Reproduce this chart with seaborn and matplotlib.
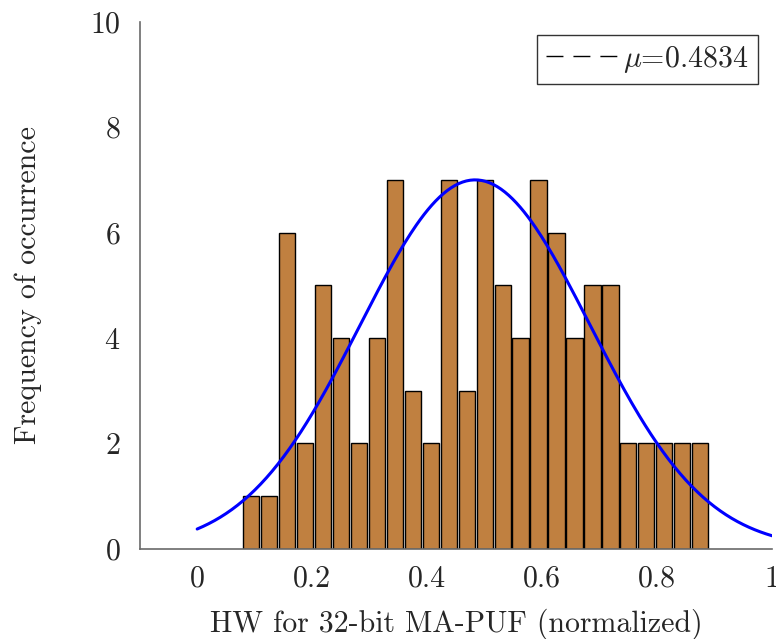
import numpy as np
import pandas as pd
import matplotlib
matplotlib.use("Agg")
import matplotlib.pyplot as plt
import seaborn as sns
from matplotlib.lines import Line2D

# ---- data ----
hw_bits = list(range(3, 29))  # Hamming weight (out of 32)
counts = [1, 1, 6, 2, 5, 4, 2, 4, 7, 3, 2, 7, 3, 7, 5, 4, 7, 6, 4, 5, 5, 2, 2, 2, 2, 2]
n_bits = 32
mu = 0.4834
sigma = 0.2
peak = 7
xticks = [0, 0.2, 0.4, 0.6, 0.8, 1]
xticklabels = ["0", "0.2", "0.4", "0.6", "0.8", "1"]
yticks = [0, 2, 4, 6, 8, 10]

sns.set_style("white")
plt.rcParams["font.family"] = ["cmr10", "DejaVu Serif"]
plt.rcParams["mathtext.fontset"] = "cm"
plt.rcParams["axes.formatter.use_mathtext"] = True

df = pd.DataFrame({"hw": np.array(hw_bits) / n_bits, "count": counts})

fig = plt.figure(figsize=(7.76, 6.39), dpi=100)
ax = fig.add_axes([0.180, 0.141, 0.815, 0.825])

sns.histplot(data=df, x="hw", weights="count", binwidth=1 / n_bits,
             binrange=((hw_bits[0] - 0.5) / n_bits, (hw_bits[-1] + 0.5) / n_bits),
             shrink=0.9, color="#C08040", edgecolor="black", linewidth=1.0,
             alpha=1.0, ax=ax)

xs = np.linspace(0, 1, 300)
curve = pd.DataFrame({"x": xs, "y": peak * np.exp(-(xs - mu) ** 2 / (2 * sigma ** 2))})
sns.lineplot(data=curve, x="x", y="y", color="#0000FF", linewidth=2.2, ax=ax)

fs = 21.5
ax.set_xlim(-0.1, 1.0)
ax.set_ylim(0, 10)
ax.set_xticks(xticks)
ax.set_xticklabels(xticklabels)
ax.set_yticks(yticks)
ax.set_xlabel("HW for 32-bit MA-PUF (normalized)", fontsize=fs, labelpad=11)
ax.set_ylabel("Frequency of occurrence", fontsize=fs, labelpad=34)
ax.tick_params(axis="both", direction="in", length=6, color="#7a7a7a", width=1,
               labelsize=fs)
ax.tick_params(axis="x", pad=12)
ax.tick_params(axis="y", pad=14)
for s in ["top", "right"]:
    ax.spines[s].set_visible(False)
for s in ["left", "bottom"]:
    ax.spines[s].set_color("#6a6a6a")
    ax.spines[s].set_linewidth(1.2)

handle = Line2D([0], [0], color="black", linestyle=(0, (12.2, 7.2)), linewidth=1.0)
leg = ax.legend([handle], [r"$\mu$=0.4834"], loc="upper right", fontsize=fs,
                frameon=True, fancybox=False, handlelength=2.45, handletextpad=0.15,
                borderpad=0.3, borderaxespad=0.0,
                bbox_to_anchor=(0.977, 0.975))
leg.get_frame().set_edgecolor("black")
leg.get_frame().set_linewidth(1.0)

fig.savefig("out.png", dpi=100)
